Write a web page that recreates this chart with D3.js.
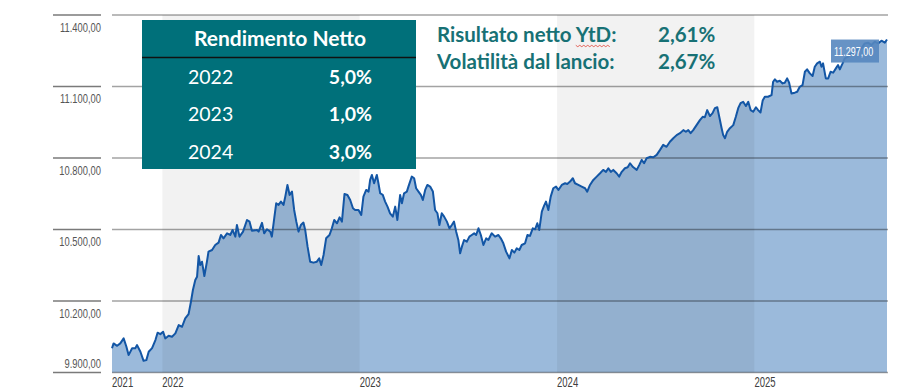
<!DOCTYPE html>
<html>
<head>
<meta charset="utf-8">
<script src="https://cdn.jsdelivr.net/npm/d3@7"></script>
<style>
  body { margin: 0; background: #fff; }
  svg { display: block; }
</style>
</head>
<body>
<svg id="vis" width="903" height="391"></svg>
<script>
// time (decimal years) and NAV values
const dates = [2021.745,2021.753,2021.771,2021.787,2021.804,2021.818,2021.829,2021.847,2021.863,2021.872,2021.889,2021.905,2021.919,2021.931,2021.948,2021.965,2021.976,2021.990,
  2022.004,2022.015,2022.032,2022.049,2022.066,2022.083,2022.100,2022.116,2022.133,2022.145,2022.155,2022.167,2022.176,2022.184,2022.192,2022.201,2022.213,2022.226,2022.234,2022.252,2022.268,2022.285,2022.297,2022.310,2022.328,2022.344,2022.356,2022.370,2022.378,2022.391,2022.409,2022.429,2022.442,2022.454,2022.480,2022.488,2022.505,2022.516,2022.530,2022.547,2022.555,2022.567,2022.577,2022.589,2022.601,2022.614,2022.623,2022.634,2022.645,2022.657,2022.668,2022.679,2022.690,2022.702,2022.715,2022.724,2022.736,2022.749,2022.766,2022.783,2022.795,2022.805,2022.817,2022.830,2022.847,2022.859,2022.871,2022.885,2022.898,2022.910,2022.923,2022.938,2022.952,2022.966,2022.977,2022.994,
  2023.008,2023.019,2023.033,2023.045,2023.053,2023.062,2023.073,2023.087,2023.095,2023.104,2023.117,2023.129,2023.141,2023.154,2023.168,2023.180,2023.191,2023.205,2023.214,2023.225,2023.239,2023.247,2023.264,2023.276,2023.286,2023.298,2023.310,2023.320,2023.332,2023.343,2023.357,2023.371,2023.382,2023.394,2023.404,2023.416,2023.428,2023.442,2023.455,2023.467,2023.478,2023.489,2023.500,2023.509,2023.518,2023.529,2023.543,2023.556,2023.568,2023.580,2023.590,2023.602,2023.614,2023.627,2023.641,2023.652,2023.669,2023.686,2023.703,2023.715,2023.728,2023.742,2023.759,2023.771,2023.784,2023.796,2023.809,2023.821,2023.838,2023.850,2023.863,2023.877,2023.889,2023.900,2023.910,2023.923,2023.934,2023.944,2023.956,2023.968,2023.981,2023.995,
  2024.007,2024.024,2024.041,2024.052,2024.066,2024.080,2024.091,2024.108,2024.125,2024.142,2024.153,2024.167,2024.184,2024.201,2024.218,2024.234,2024.248,2024.260,2024.273,2024.285,2024.302,2024.315,2024.328,2024.344,2024.358,2024.370,2024.385,2024.404,2024.417,2024.429,2024.441,2024.454,2024.471,2024.488,2024.505,2024.522,2024.538,2024.555,2024.572,2024.589,2024.606,2024.623,2024.640,2024.653,2024.665,2024.677,2024.690,2024.707,2024.724,2024.738,2024.749,2024.761,2024.775,2024.788,2024.800,2024.812,2024.822,2024.834,2024.842,2024.851,2024.862,2024.876,2024.893,2024.906,2024.918,2024.930,2024.943,2024.957,2024.969,2024.981,2024.994,
  2025.008,2025.019,2025.031,2025.042,2025.053,2025.069,2025.087,2025.095,2025.104,2025.115,2025.129,2025.143,2025.154,2025.166,2025.176,2025.188,2025.205,2025.217,2025.230,2025.244,2025.256,2025.267,2025.281,2025.295,2025.306,2025.318,2025.332,2025.340,2025.348,2025.362,2025.374,2025.386,2025.399,2025.413,2025.424,2025.433,2025.447,2025.458,2025.475,2025.492,2025.518,2025.543,2025.559,2025.576,2025.593,2025.610,2025.627,2025.644,2025.661,2025.672];

const navValues = [10002,10022,10012,10022,10043,10008,9973,10002,10002,10015,9987,9949,9952,9987,10002,10036,10067,10061,
  10071,10043,10054,10050,10064,10099,10092,10127,10145,10197,10246,10288,10302,10389,10351,10365,10305,10365,10407,10414,10435,10445,10477,10463,10484,10477,10498,10470,10519,10470,10491,10540,10533,10495,10498,10491,10528,10484,10501,10491,10470,10547,10610,10603,10617,10603,10638,10687,10645,10659,10582,10533,10491,10519,10529,10498,10428,10365,10361,10365,10379,10351,10393,10463,10477,10505,10540,10526,10551,10533,10649,10645,10624,10589,10582,10582,
  10561,10638,10666,10659,10708,10729,10694,10729,10694,10652,10645,10617,10596,10568,10554,10596,10540,10645,10610,10652,10659,10680,10722,10715,10673,10659,10645,10624,10666,10687,10680,10659,10582,10568,10519,10568,10554,10533,10505,10519,10533,10491,10456,10400,10428,10456,10449,10470,10477,10484,10477,10505,10477,10435,10463,10456,10484,10470,10477,10463,10442,10407,10379,10414,10403,10421,10414,10435,10442,10477,10473,10505,10501,10526,10498,10575,10599,10617,10582,10638,10673,10680,
  10666,10687,10694,10691,10701,10715,10694,10687,10680,10673,10659,10687,10708,10722,10736,10750,10742,10757,10742,10750,10736,10722,10742,10757,10761,10778,10762,10750,10771,10792,10778,10799,10805,10803,10813,10834,10855,10847,10868,10883,10896,10904,10917,10910,10917,10904,10917,10938,10959,10973,10971,11001,10976,10988,11009,11013,10973,10925,10896,10883,10910,10925,10938,10973,11009,11030,11036,11018,11036,11001,10994,
  11013,11001,10991,11041,11057,11057,11064,11120,11130,11120,11124,11113,11116,11134,11116,11071,11074,11078,11099,11106,11162,11172,11155,11144,11183,11197,11204,11183,11197,11134,11134,11162,11158,11176,11190,11172,11197,11218,11225,11239,11253,11260,11281,11284,11274,11288,11281,11292,11284,11297];

const yearTicks = [2021, 2022, 2023, 2024, 2025];
const shadedYears = [2022, 2024];
const yTicks = [9900, 10200, 10500, 10800, 11100, 11400];

const tableTitle = "Rendimento Netto";
const tableYears = ["2022", "2023", "2024"];
const tableReturns = ["5,0%", "1,0%", "3,0%"];

const statLabels = ["Risultato netto YtD:", "Volatilità dal lancio:"];
const statValues = ["2,61%", "2,67%"];

const lastLabel = "11.297,00";

const data = dates.map((t, i) => ({t: t, v: navValues[i]}));

const svg = d3.select("#vis");
const plotLeft = 112, plotRight = 888, plotTop = 15, plotBottom = 372.5;

const x = d3.scaleLinear()
  .domain(d3.extent(dates))
  .range([plotLeft, 887]);
const y = d3.scaleLinear()
  .domain([9900, 11400])
  .range([plotBottom, plotTop]);

const it = d3.formatLocale({decimal: ",", thousands: ".", grouping: [3], currency: ["", ""]});
const fmt = it.format(",.2f");

const narrow = "'Liberation Sans', Arial, sans-serif";
const calibri = "Lato, 'Open Sans', sans-serif";

// squeeze text horizontally (the original uses a narrow font)
function condense(sel, k) {
  sel.each(function() {
    const w = this.getComputedTextLength();
    d3.select(this).attr("textLength", w * k).attr("lengthAdjust", "spacingAndGlyphs");
  });
}

// area
const area = d3.area()
  .x(d => x(d.t))
  .y0(plotBottom)
  .y1(d => y(d.v));

svg.append("path")
  .datum(data)
  .attr("fill", "#9bbadb")
  .attr("d", area);

// shaded year bands
svg.append("g")
  .selectAll("rect")
  .data(shadedYears)
  .join("rect")
  .attr("x", d => x(d))
  .attr("width", d => x(d + 1) - x(d))
  .attr("y", plotTop)
  .attr("height", plotBottom - plotTop)
  .attr("fill", "rgba(0,0,0,0.052)");

// gridlines
const grid = svg.append("g");
grid.selectAll("line.in")
  .data(yTicks)
  .join("line")
  .attr("class", "in")
  .attr("x1", plotLeft).attr("x2", plotRight)
  .attr("y1", d => y(d)).attr("y2", d => y(d))
  .attr("stroke", "rgba(0,0,0,0.36)")
  .attr("stroke-width", 1.4);
grid.selectAll("line.out")
  .data(yTicks)
  .join("line")
  .attr("class", "out")
  .attr("x1", 53).attr("x2", 101)
  .attr("y1", d => y(d)).attr("y2", d => y(d))
  .attr("stroke", "#7a7a7a")
  .attr("stroke-width", 1.6);

grid.selectAll("text")
  .data(yTicks)
  .join("text")
  .attr("x", 101)
  .attr("y", d => d === yTicks[0] ? y(d) - 5 : y(d) + 16.5)
  .attr("text-anchor", "end")
  .attr("font-family", narrow)
  .attr("font-size", 13)
  .attr("fill", "#555")
  .text(d => fmt(d))
  .call(condense, 0.72);

// year labels (first one sits at the start of the series)
svg.append("g")
  .selectAll("text")
  .data(yearTicks)
  .join("text")
  .attr("x", d => d === yearTicks[0] ? x(dates[0]) : x(d))
  .attr("y", 387)
  .attr("font-family", narrow)
  .attr("font-size", 14)
  .attr("fill", "#404040")
  .text(d => d)
  .call(condense, 0.68);

// line
const line = d3.line()
  .x(d => x(d.t))
  .y(d => y(d.v));

svg.append("path")
  .datum(data)
  .attr("fill", "none")
  .attr("stroke", "#1356a5")
  .attr("stroke-width", 2)
  .attr("stroke-linejoin", "round")
  .attr("d", line);

// last value box
const lastX = x(dates[dates.length - 1]), lastY = y(navValues[navValues.length - 1]);
svg.append("rect")
  .attr("x", lastX - 56).attr("y", lastY)
  .attr("width", 48).attr("height", 23)
  .attr("fill", "#5787bf")
  .attr("opacity", 0.9);
svg.append("text")
  .attr("x", lastX - 53).attr("y", lastY + 16)
  .attr("font-family", narrow)
  .attr("font-size", 12.5)
  .attr("fill", "#fff")
  .text(lastLabel)
  .call(condense, 0.72);

// returns table
const tbl = svg.append("g").attr("transform", "translate(142,20)");
tbl.append("rect")
  .attr("width", 274).attr("height", 149)
  .attr("fill", "#00707a");
tbl.append("line")
  .attr("x1", 0).attr("x2", 274)
  .attr("y1", 37.5).attr("y2", 37.5)
  .attr("stroke", "#111").attr("stroke-width", 1.5);
tbl.append("text")
  .attr("x", 138).attr("y", 26)
  .attr("text-anchor", "middle")
  .attr("font-family", calibri)
  .attr("font-weight", "bold")
  .attr("font-size", 21)
  .attr("fill", "#fff")
  .text(tableTitle);
tbl.selectAll("text.yr")
  .data(tableYears)
  .join("text")
  .attr("class", "yr")
  .attr("x", 46)
  .attr("y", (d, i) => 63.5 + i * 37.5)
  .attr("font-family", calibri)
  .attr("font-size", 19.5)
  .attr("fill", "#fff")
  .text(d => d);
tbl.selectAll("text.rt")
  .data(tableReturns)
  .join("text")
  .attr("class", "rt")
  .attr("x", 230)
  .attr("y", (d, i) => 63.5 + i * 37.5)
  .attr("text-anchor", "end")
  .attr("font-family", calibri)
  .attr("font-weight", "bold")
  .attr("font-size", 19.5)
  .attr("fill", "#fff")
  .text(d => d);

// stats
const stats = svg.append("g");
stats.selectAll("text.lb")
  .data(statLabels)
  .join("text")
  .attr("class", "lb")
  .attr("x", 437)
  .attr("y", (d, i) => 42 + i * 26.5)
  .attr("font-family", calibri)
  .attr("font-weight", "bold")
  .attr("font-size", 20.5)
  .attr("fill", "#177175")
  .text(d => d);
stats.selectAll("text.vl")
  .data(statValues)
  .join("text")
  .attr("class", "vl")
  .attr("x", 658)
  .attr("y", (d, i) => 42 + i * 26.5)
  .attr("font-family", calibri)
  .attr("font-weight", "bold")
  .attr("font-size", 20.5)
  .attr("fill", "#177175")
  .text(d => d);

// spell-check squiggle under "YtD"
const probe = stats.select("text.lb").node();
const ytdAt = statLabels[0].indexOf("YtD");
const before = probe.getSubStringLength(0, ytdAt);
const ytdW = probe.getSubStringLength(ytdAt, 3);
const sx0 = 437 + before, sy = 45.5;
const zz = d3.range(0, Math.floor(ytdW / 2) + 1).map(k => [sx0 + k * 2, sy + (k % 2 ? 1.2 : -0.2)]);
stats.append("path")
  .attr("d", d3.line()(zz))
  .attr("fill", "none")
  .attr("stroke", "#e0453a")
  .attr("stroke-width", 0.8);
</script>
</body>
</html>
